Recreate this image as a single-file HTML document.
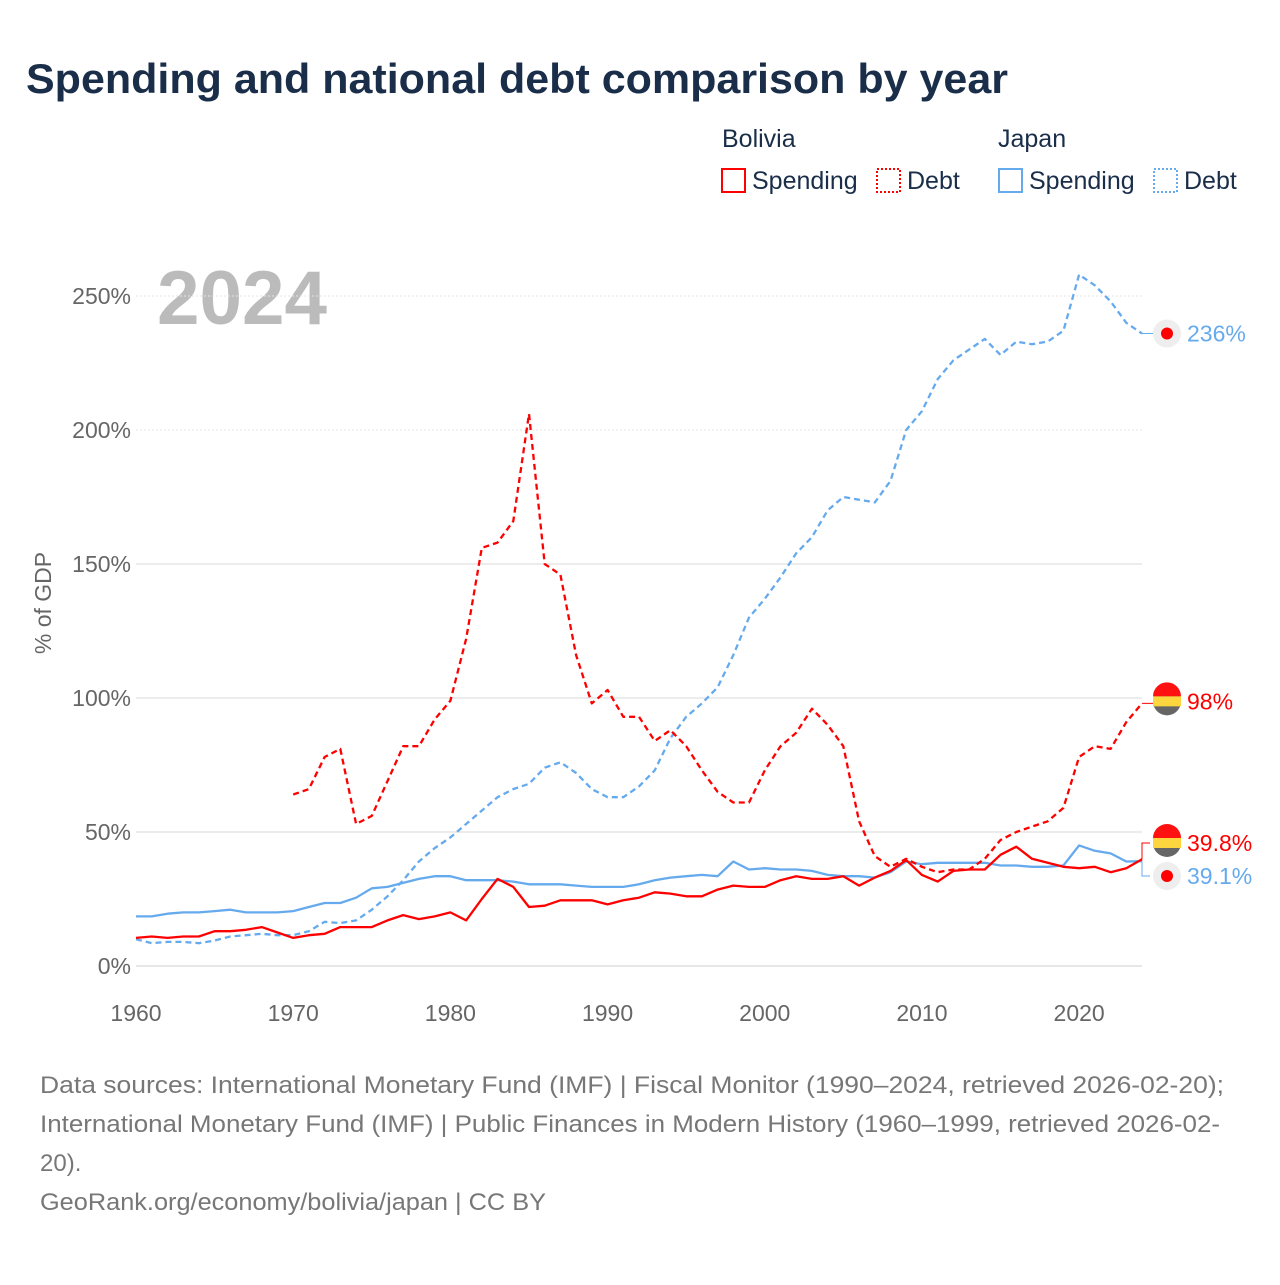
<!DOCTYPE html>
<html><head><meta charset="utf-8"><style>
body{margin:0;background:#fff;width:1280px;height:1280px;overflow:hidden;font-family:"Liberation Sans",sans-serif}
#root{position:relative;width:1280px;height:1280px}
</style></head><body><div id="root">
<svg id="svg" width="1280" height="1280" xmlns="http://www.w3.org/2000/svg">
<text x="26" y="93" font-size="42" font-weight="bold" fill="#1a2e4a" textLength="982" lengthAdjust="spacingAndGlyphs">Spending and national debt comparison by year</text>
<g font-size="25" fill="#1a2e4a">
<text x="722" y="147">Bolivia</text>
<text x="998" y="147">Japan</text>
<g><rect x="722" y="169" width="23" height="23" fill="none" stroke="#ff0000" stroke-width="2"/><text x="752" y="189">Spending</text></g>
<g><rect x="877" y="169" width="23" height="23" fill="none" stroke="#ff0000" stroke-width="2" stroke-dasharray="2 2"/><text x="907" y="189">Debt</text></g>
<g><rect x="999" y="169" width="23" height="23" fill="none" stroke="#66aaee" stroke-width="2"/><text x="1029" y="189">Spending</text></g>
<g><rect x="1154" y="169" width="23" height="23" fill="none" stroke="#66aaee" stroke-width="2" stroke-dasharray="2 2"/><text x="1184" y="189">Debt</text></g>
</g>
<text x="157" y="324" font-size="76" font-weight="bold" fill="#bbbbbb" textLength="170" lengthAdjust="spacingAndGlyphs">2024</text>
<text transform="translate(51,603) rotate(-90)" text-anchor="middle" font-size="23" fill="#666">% of GDP</text>
<g id="grid"></g><g id="lines"></g><g id="ends"></g>
<g font-size="24" fill="#777">
<text x="40" y="1093" textLength="1184" lengthAdjust="spacingAndGlyphs">Data sources: International Monetary Fund (IMF) | Fiscal Monitor (1990–2024, retrieved 2026-02-20);</text>
<text x="40" y="1132" textLength="1180" lengthAdjust="spacingAndGlyphs">International Monetary Fund (IMF) | Public Finances in Modern History (1960–1999, retrieved 2026-02-</text>
<text x="40" y="1171">20).</text>
<text x="40" y="1210" textLength="506" lengthAdjust="spacingAndGlyphs">GeoRank.org/economy/bolivia/japan | CC BY</text>
</g>
</svg></div>
<script>
const yTicks=[0,50,100,150,200,250];
const xTicks=[1960,1970,1980,1990,2000,2010,2020];
const bolSpending=[10.5,11,10.5,11,11,13,13,13.5,14.5,12.5,10.5,11.5,12,14.5,14.5,14.5,17,19,17.5,18.5,20,17,25,32.5,29.5,22,22.5,24.5,24.5,24.5,23,24.5,25.5,27.5,27,26,26,28.5,30,29.5,29.5,32,33.5,32.5,32.5,33.5,30,33,35.5,39.5,34,31.5,35.5,36,36,41.5,44.5,40,38.5,37,36.5,37,35,36.5,39.8];
const bolDebtStart=1970;
const bolDebt=[64,66,78,81,53,56,69,82,82,92,99,122,156,158,166,206,150,146,116,98,103,93,93,84,88,82,73,65,61,61,73,82,87,96,90,82,54,41,37,40,37,35,36,36,40,47,50,52,54,59,78,82,81,91,98];
const jpnSpending=[18.5,18.5,19.5,20,20,20.5,21,20,20,20,20.5,22,23.5,23.5,25.5,29,29.5,31,32.5,33.5,33.5,32,32,32,31.5,30.5,30.5,30.5,30,29.5,29.5,29.5,30.5,32,33,33.5,34,33.5,39,36,36.5,36,36,35.5,34,33.5,33.5,33,35,39,38,38.5,38.5,38.5,38.5,37.5,37.5,37,37,37.5,45,43,42,39,39.1];
const jpnDebt=[10,8.5,9,9,8.5,9.5,11,11.5,12,11.5,11.5,13,16.5,16,17,21,26,32,39,44,48,53,58,63,66,68,74,76,72,66,63,63,67,73,85,93,98,104,116,130,137,145,154,160,170,175,174,173,181,200,207,219,226,230,234,228,233,232,233,237,258,254,248,240,236];
const NS='http://www.w3.org/2000/svg';
const X=y=>136+(y-1960)*(1142-136)/64;
const Y=v=>966-v*2.68;
function mk(t,a,p){const e=document.createElementNS(NS,t);for(const k in a)e.setAttribute(k,a[k]);p.appendChild(e);return e;}
const grid=document.getElementById('grid');
yTicks.forEach(v=>{
 const l=mk('line',{x1:136,x2:1142,y1:Y(v),y2:Y(v),stroke:v===0?'#ddd':'#e6e6e6','stroke-width':v>=200?1:1.5,'stroke-dasharray':v>=200?'2 2':'none'},grid);
 
 
 const t=mk('text',{x:131,y:Y(v)+8,'text-anchor':'end','font-size':23,fill:'#666'},grid);t.textContent=v+'%';
 
 
});
xTicks.forEach(y=>{
 const t=mk('text',{x:X(y),y:1021,'text-anchor':'middle','font-size':23,fill:'#666'},grid);t.textContent=y;
 
 
});
const lines=document.getElementById('lines');
function series(arr,start,color,dash,name){
 const pts=arr.map((v,i)=>X(start+i).toFixed(1)+','+Y(v).toFixed(1)).join(' ');
 const p=mk('polyline',{points:pts,fill:'none',stroke:color,'stroke-width':2.3,'stroke-dasharray':dash,'stroke-linejoin':'round'},lines);
 
 
}
series(jpnSpending,1960,'#66aaee','none','japan-spending-line');
series(jpnDebt,1960,'#66aaee','6 4','japan-debt-line');
series(bolSpending,1960,'#ff0000','none','bolivia-spending-line');
series(bolDebt,bolDebtStart,'#ff0000','6 4','bolivia-debt-line');
const ends=document.getElementById('ends');
function endLabel(y,txt,color,flag,name){
 const g=mk('g',{},ends);
 
 
 if(flag){
  mk('circle',{cx:1167,cy:y,r:14,fill:'#666'},g);
  mk('path',{d:`M1153,${y-5} A14,14 0 0 1 1181,${y-5} Z`,fill:'#ff1111'},g);
  mk('rect',{x:1153,y:y-5,width:28,height:10,fill:'#fcd53f'},g);
 }else{
  mk('circle',{cx:1167,cy:y,r:14,fill:'#eee'},g);
  mk('circle',{cx:1167,cy:y,r:6,fill:'#ff0000'},g);
 }
 const t=mk('text',{x:1187,y:y+8,'font-size':23,fill:color},g);t.textContent=txt;
}
mk('path',{d:`M1142,${Y(236)} H1153`,stroke:'#66aaee',fill:'none'},ends);
mk('path',{d:`M1142,${Y(98)} H1153`,stroke:'#ff0000',fill:'none'},ends);
mk('path',{d:`M1142,${Y(39.8)} V843 H1150`,stroke:'#ff0000',fill:'none'},ends);
mk('path',{d:`M1142,${Y(39.1)} V876 H1150`,stroke:'#66aaee',fill:'none'},ends);
endLabel(Y(236),'236%','#66aaee',false,'end-label-japan-debt');
endLabel(Y(98)-2,'98%','#ff0000',true,'end-label-bolivia-debt');
endLabel(843,'39.8%','#ff0000',true,'end-label-bolivia-spending');
endLabel(876,'39.1%','#66aaee',false,'end-label-japan-spending');
</script></body></html>
